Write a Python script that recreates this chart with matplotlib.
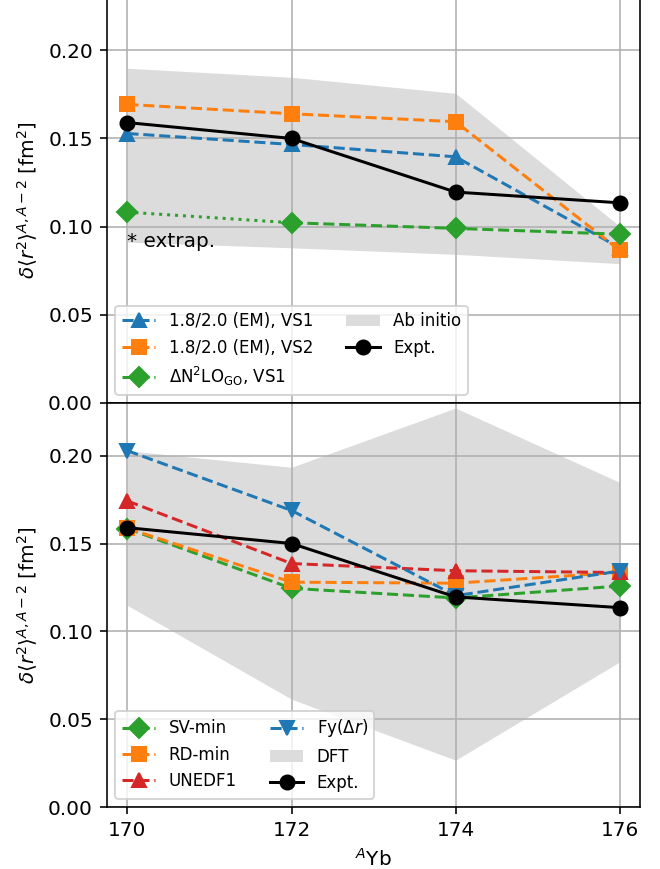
import numpy as np
import matplotlib.pyplot as plt

# mass numbers
A = [170, 172, 174, 176]

# experiment
expt = [0.159, 0.150, 0.1196, 0.1135]

# top panel: ab initio
vs1 = [0.1528, 0.1466, 0.1396, 0.088]
vs2 = [0.1693, 0.1640, 0.1595, 0.0866]
dn2lo = [0.1082, 0.1022, 0.0990, 0.0957]
abinit_hi = [0.1898, 0.1847, 0.1756, 0.1002]
abinit_lo = [0.0912, 0.0880, 0.0843, 0.0790]

# bottom panel: DFT
sv_min = [0.1585, 0.1245, 0.1190, 0.1258]
rd_min = [0.1587, 0.1280, 0.1274, 0.1336]
unedf1 = [0.1742, 0.1386, 0.1345, 0.1335]
fy_dr = [0.2028, 0.1688, 0.1203, 0.1343]
dft_hi = [0.2028, 0.1934, 0.2271, 0.1848]
dft_lo = [0.1148, 0.0614, 0.0267, 0.0826]

ylab = r'$\delta\langle r^2\rangle^{A,A-2}$ [fm$^2$]'
band_col = '#dcdcdc'
ms = 7

fig = plt.figure(figsize=(660 / 144, 869 / 144), dpi=144)
ax1 = fig.add_axes([0.162, 0.5363, 0.808, 0.4667])
ax2 = fig.add_axes([0.162, 0.0713, 0.808, 0.465], sharex=ax1)

# ---- top panel
ax1.plot(A, vs1, '--^', color='C0', ms=ms, label='1.8/2.0 (EM), VS1')
ax1.plot(A, vs2, '--s', color='C1', ms=ms, label='1.8/2.0 (EM), VS2')
ax1.plot(A[:2], dn2lo[:2], ':', color='C2')
ax1.plot(A[:1], dn2lo[:1], 'D', color='C2', ms=ms)
ax1.plot(A[1:], dn2lo[1:], '--D', color='C2', ms=ms,
         label=r'$\Delta$N$^2$LO$_{\rm GO}$, VS1')
ax1.fill_between(A, abinit_lo, abinit_hi, color=band_col, lw=0, label='Ab initio')
ax1.plot(A, expt, '-o', color='k', ms=ms, label='Expt.')
ax1.text(A[0], 0.0915, '* extrap.', va='center', ha='left')
ax1.legend(ncol=2, loc='lower left', fontsize='small')

# ---- bottom panel
ax2.plot(A, sv_min, '--D', color='C2', ms=ms, label='SV-min')
ax2.plot(A, rd_min, '--s', color='C1', ms=ms, label='RD-min')
ax2.plot(A, unedf1, '--^', color='C3', ms=ms, label='UNEDF1')
ax2.plot(A, fy_dr, '--v', color='C0', ms=ms, label=r'Fy($\Delta r$)')
ax2.fill_between(A, dft_lo, dft_hi, color=band_col, lw=0, label='DFT')
ax2.plot(A, expt, '-o', color='k', ms=ms, label='Expt.')
ax2.legend(ncol=2, loc='lower left', fontsize='small')

for ax in (ax1, ax2):
    ax.set_ylim(0, 0.23)
    ax.set_yticks([0.0, 0.05, 0.10, 0.15, 0.20])
    ax.grid(True)
    ax.set_ylabel(ylab)

ax1.set_xlim(169.75, 176.25)
ax2.set_xticks(A)
ax1.tick_params(labelbottom=False)
ax2.set_xlabel(r'$^{A}$Yb')
fig.align_ylabels([ax1, ax2])

fig.savefig('out.png', dpi=144)
